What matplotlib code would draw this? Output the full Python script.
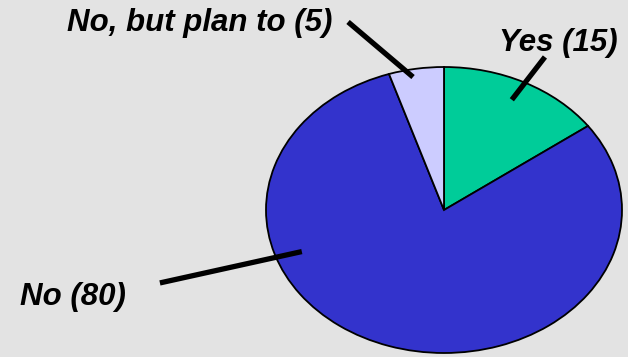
import numpy as np
import matplotlib
matplotlib.use("Agg")
import matplotlib.pyplot as plt

# data
labels = ["Yes (15)", "No (80)", "No, but plan to (5)"]
values = [15, 80, 5]
colors = ["#00CC99", "#3333CC", "#CCCCFF"]

# layout: pie centre/radii in pixels
W, H = 628, 357
cx, cy = 444, 210
rx, ry = 178, 143

fig = plt.figure(figsize=(W / 100, H / 100), dpi=100)
fig.patch.set_facecolor("#e3e3e3")
ax = fig.add_axes([0, 0, 1, 1])
ax.set_facecolor("#e3e3e3")

wedges, _ = ax.pie(values, colors=colors, startangle=90, counterclock=False,
                   wedgeprops=dict(edgecolor="black", linewidth=1.3))
ax.set_aspect("auto")
ax.set_xlim(-cx / rx, (W - cx) / rx)
ax.set_ylim(-(H - cy) / ry, cy / ry)
ax.axis("off")

# leader lines: (anchor angle, anchor radius) -> outer end, text position
leaders = {
    "Yes (15)": ((63.7, 0.86), (0.567, 1.07), (0.31, 1.17), "left"),
    "No (80)": ((200, 0.85), (-1.596, -0.51), (-2.38, -0.605), "left"),
    "No, but plan to (5)": ((100.6, 0.946), (-0.539, 1.315), (-2.12, 1.31), "left"),
}
for lab, (anc, end, tpos, ha) in leaders.items():
    a = np.deg2rad(anc[0])
    x0, y0 = anc[1] * np.cos(a), anc[1] * np.sin(a)
    ax.plot([x0, end[0]], [y0, end[1]], color="black", lw=3.8,
            solid_capstyle="butt")
    ax.text(tpos[0], tpos[1], lab, ha=ha, va="center", fontsize=22.5,
            fontweight="bold", fontstyle="italic", family="Liberation Sans")

fig.savefig("out.png", dpi=100, facecolor=fig.get_facecolor())
